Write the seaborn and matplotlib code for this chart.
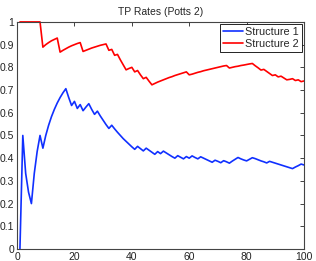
import numpy as np
import pandas as pd
import matplotlib
matplotlib.use("Agg")
import matplotlib.pyplot as plt
import seaborn as sns

# running TP rate per sample
structure1 = [
    0.0, 0.5, 0.333, 0.25, 0.2, 0.333, 0.429, 0.5, 0.444, 0.5,
    0.545, 0.583, 0.615, 0.643, 0.667, 0.688, 0.706, 0.667, 0.632, 0.65,
    0.619, 0.636, 0.609, 0.625, 0.64, 0.615, 0.593, 0.607, 0.586, 0.567,
    0.548, 0.531, 0.545, 0.529, 0.514, 0.5, 0.486, 0.474, 0.462, 0.45,
    0.439, 0.452, 0.442, 0.432, 0.444, 0.435, 0.426, 0.417, 0.429, 0.42,
    0.431, 0.423, 0.415, 0.407, 0.4, 0.411, 0.404, 0.397, 0.407, 0.4,
    0.41, 0.403, 0.397, 0.406, 0.4, 0.394, 0.388, 0.382, 0.391, 0.386,
    0.38, 0.389, 0.384, 0.378, 0.387, 0.395, 0.403, 0.397, 0.392, 0.388,
    0.395, 0.402, 0.398, 0.393, 0.388, 0.384, 0.379, 0.386, 0.382, 0.378,
    0.374, 0.37, 0.366, 0.362, 0.358, 0.354, 0.361, 0.367, 0.374, 0.37,
]
structure2 = [
    1.0, 1.0, 1.0, 1.0, 1.0, 1.0, 1.0, 1.0, 0.889, 0.9,
    0.909, 0.917, 0.923, 0.929, 0.867, 0.875, 0.882, 0.889, 0.895, 0.9,
    0.905, 0.909, 0.87, 0.875, 0.88, 0.885, 0.889, 0.893, 0.897, 0.9,
    0.903, 0.875, 0.879, 0.853, 0.857, 0.833, 0.811, 0.789, 0.795, 0.8,
    0.78, 0.786, 0.767, 0.75, 0.756, 0.739, 0.723, 0.729, 0.735, 0.74,
    0.745, 0.75, 0.755, 0.759, 0.764, 0.768, 0.772, 0.776, 0.78, 0.767,
    0.77, 0.774, 0.778, 0.781, 0.785, 0.788, 0.791, 0.794, 0.797, 0.8,
    0.803, 0.806, 0.808, 0.797, 0.8, 0.803, 0.805, 0.808, 0.81, 0.8125,
    0.815, 0.817, 0.807, 0.798, 0.788, 0.791, 0.782, 0.773, 0.764, 0.767,
    0.758, 0.761, 0.753, 0.745, 0.747, 0.75, 0.742, 0.745, 0.737, 0.74,
]
samples = list(range(1, len(structure1) + 1))
series_names = ["Structure 1", "Structure 2"]

df = pd.DataFrame({
    "n": samples * 2,
    "rate": structure1 + structure2,
    "series": [series_names[0]] * len(samples) + [series_names[1]] * len(samples),
})

sns.set_style("white")
plt.rcParams["font.family"] = ["Liberation Sans", "DejaVu Sans"]
plt.rcParams["font.size"] = 7.5

fig = plt.figure(figsize=(3.16, 2.61), dpi=100)
ax = fig.add_axes([0.054, 0.046, 0.908, 0.870])

sns.lineplot(data=df, x="n", y="rate", hue="series",
             palette={"Structure 1": "#1030ff", "Structure 2": "#ff0000"},
             linewidth=1.2, ax=ax)
for line in ax.lines:
    line.set_clip_on(False)

ax.set_xlim(0, 100)
ax.set_ylim(0, 1)
ax.set_xticks(np.arange(0, 101, 20))
ax.set_yticks(np.arange(0, 1.01, 0.1))
ax.yaxis.set_major_formatter(plt.FuncFormatter(lambda v, p: "%g" % round(v, 1)))
ax.tick_params(direction="in", length=3, width=0.6, colors="#222222",
               labelsize=7.5, top=True, right=True, pad=2)
for s in ax.spines.values():
    s.set_visible(True)
    s.set_color("#444444")
    s.set_linewidth(0.8)

ax.set_xlabel("")
ax.set_ylabel("")
ax.set_title("TP Rates (Potts 2)", fontsize=7.5, pad=5)

leg = ax.legend(loc="upper right", fontsize=7.8, fancybox=False, framealpha=1,
                edgecolor="black", borderaxespad=0.2, borderpad=0.25,
                handlelength=1.9, labelspacing=0.2, handletextpad=0.2)
leg.get_frame().set_linewidth(0.6)

fig.savefig("out.png", dpi=100)
